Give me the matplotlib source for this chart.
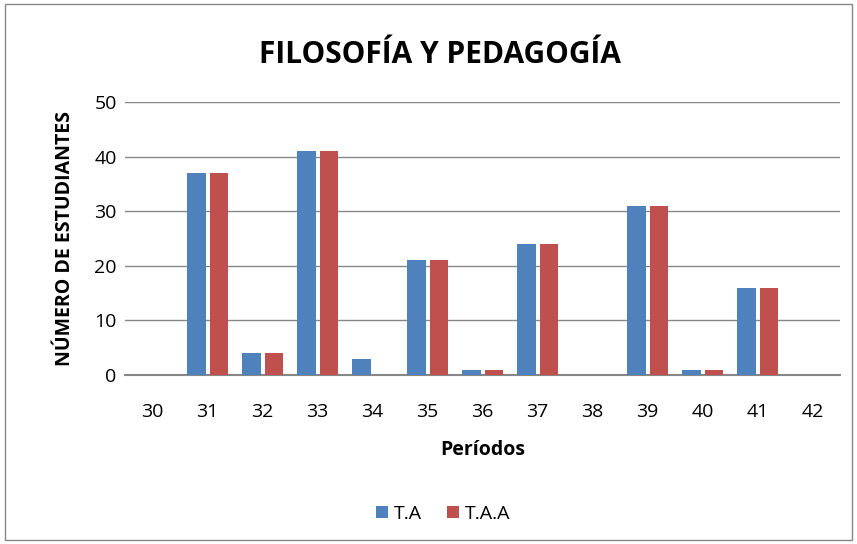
import numpy as np
import matplotlib
matplotlib.use("Agg")
from matplotlib import pyplot as plt
from matplotlib.patches import Rectangle

periodos = ["30", "31", "32", "33", "34", "35", "36", "37", "38", "39", "40", "41", "42"]
t_a = [0, 37, 4, 41, 3, 21, 1, 24, 0, 31, 1, 16, 0]
t_aa = [0, 37, 4, 41, 0, 21, 1, 24, 0, 31, 1, 16, 0]

BLUE = "#4F81BD"
RED = "#C0504D"
GRID = "#878787"
FONT = ["Open Sans", "DejaVu Sans"]
plt.rcParams["font.family"] = FONT

fig = plt.figure(figsize=(8.57, 5.44), dpi=100)
ax = fig.add_axes([125 / 857, 1 - 375 / 544, 715 / 857, 273 / 544])

x = np.arange(len(periodos))
w = 0.33
ax.bar(x - w / 2 - 0.035, t_a, w, color=BLUE, label="T.A", zorder=3)
ax.bar(x + w / 2 + 0.045, t_aa, w, color=RED, label="T.A.A", zorder=3)

ax.set_xlim(-0.5, len(periodos) - 0.5)
ax.set_ylim(0, 50)
ax.set_yticks(range(0, 51, 10))
ax.set_xticks(x)
ax.set_xticklabels(periodos)
ax.tick_params(axis="both", length=0, labelsize=14, colors="black")
ax.tick_params(axis="x", pad=20)
ax.tick_params(axis="y", pad=6)
ax.yaxis.grid(True, color=GRID, lw=1.0, zorder=0)
for s in ("top", "right", "left"):
    ax.spines[s].set_visible(False)
ax.spines["bottom"].set_color(GRID)
ax.spines["bottom"].set_linewidth(1.5)

ax.set_xlabel("Períodos", fontsize=14, fontweight="bold", labelpad=14)
ax.set_ylabel("NÚMERO DE ESTUDIANTES", fontsize=14, fontweight="bold", labelpad=14)

fig.text(440 / 857, 1 - 55 / 544, "FILOSOFÍA Y PEDAGOGÍA", fontsize=21.5,
         fontweight="bold", ha="center", va="center")

fig.legend(loc="center", bbox_to_anchor=(443 / 857, 1 - 514 / 544), ncol=2,
           frameon=False, fontsize=14, handlelength=0.6, handleheight=0.6,
           handletextpad=0.3, columnspacing=1.3)

fig.patches.append(Rectangle((5 / 857, 4 / 544), 847 / 857, 536 / 544,
                             transform=fig.transFigure, fill=False,
                             edgecolor=GRID, lw=1.0))

fig.savefig("out.png", dpi=100, facecolor="white")
